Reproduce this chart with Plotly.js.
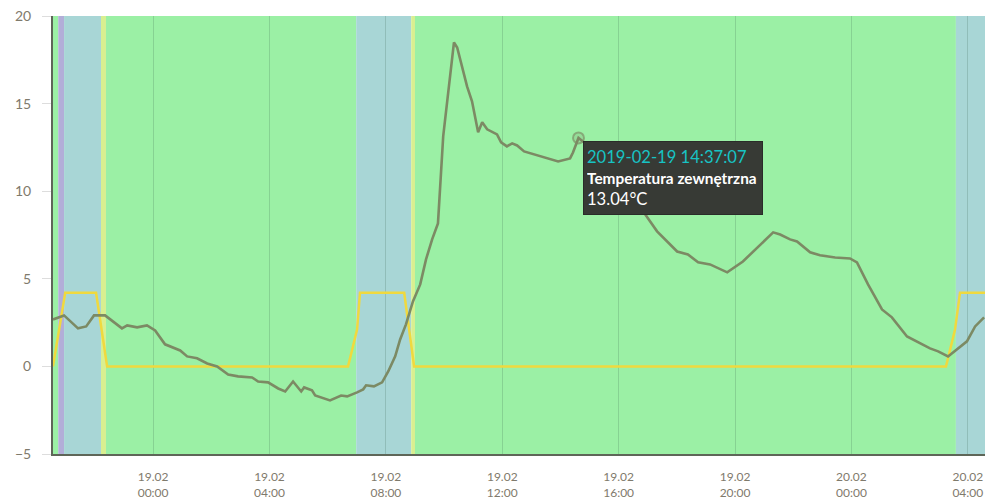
<!DOCTYPE html>
<html>
<head>
<meta charset="utf-8">
<script src="https://cdn.plot.ly/plotly-3.0.1.min.js"></script>
<style>
html, body { margin: 0; padding: 0; background: #fff; }
#chart { width: 1000px; height: 503px; }
</style>
</head>
<body>
<div id="chart"></div>
<script>
// all times are hours counted from 2019-02-19 00:00
const tempHours = [-3.44, -3.06, -2.58, -2.30, -2.03, -1.65, -1.07, -0.89, -0.55, -0.21, 0.07, 0.41, 0.93, 1.17, 1.51, 1.86, 2.20, 2.58, 2.92, 3.40, 3.61, 3.95, 4.30, 4.54, 4.81, 5.09, 5.19, 5.46, 5.57, 6.08, 6.46, 6.67, 7.01, 7.22, 7.32, 7.59, 7.87, 8.08, 8.32, 8.49, 8.69, 8.93, 9.18, 9.38, 9.59, 9.79, 9.97, 10.34, 10.45, 10.79, 10.96, 11.17, 11.31, 11.48, 11.82, 11.96, 12.16, 12.34, 12.51, 12.75, 13.92, 14.33, 14.43, 14.62, 14.81, 15.02, 15.70, 16.39, 16.91, 17.32, 18.01, 18.38, 18.73, 19.14, 19.73, 20.27, 20.76, 21.31, 21.55, 21.89, 22.13, 22.58, 22.92, 23.44, 23.95, 24.19, 24.57, 25.05, 25.39, 25.91, 26.70, 26.98, 27.32, 27.97, 28.25, 28.56];
const tempValues = [2.68, 2.91, 2.17, 2.28, 2.91, 2.91, 2.17, 2.34, 2.23, 2.34, 2.05, 1.26, 0.91, 0.57, 0.46, 0.17, 0, -0.46, -0.57, -0.63, -0.86, -0.91, -1.26, -1.43, -0.86, -1.43, -1.2, -1.37, -1.66, -1.94, -1.66, -1.71, -1.48, -1.31, -1.08, -1.14, -0.91, -0.29, 0.57, 1.54, 2.4, 3.71, 4.68, 6.11, 7.25, 8.16, 13.13, 18.49, 18.2, 15.98, 15.13, 13.36, 13.93, 13.53, 13.24, 12.79, 12.56, 12.73, 12.61, 12.27, 11.7, 11.87, 12.21, 13.04, 12.79, 12.39, 10.67, 9.53, 8.68, 7.71, 6.56, 6.39, 5.94, 5.82, 5.37, 5.99, 6.79, 7.65, 7.53, 7.25, 7.13, 6.51, 6.34, 6.22, 6.16, 5.94, 4.68, 3.25, 2.80, 1.71, 1.03, 0.86, 0.57, 1.43, 2.28, 2.80];

const stateHours = [-3.44, -3.02, -1.96, -1.58, 6.70, 7.01, 7.11, 8.63, 8.97, 27.25, 27.56, 27.73, 28.59];
const stateValues = [0, 4.2, 4.2, 0, 0, 2.1, 4.2, 4.2, 0, 0, 2.1, 4.2, 4.2];

// background periods: kind of period and where each one starts and ends
const bandKinds = ["green", "purple", "teal", "lime", "green", "teal", "lime", "green", "teal"];
const bandStarts = [-3.44, -3.26, -3.06, -1.79, -1.62, 6.98, 8.87, 9.0, 27.59];
const bandEnds = [-3.26, -3.06, -1.79, -1.62, 6.98, 8.87, 9.0, 27.59, 28.59];

const xTickHours = [0, 4, 8, 12, 16, 20, 24, 28];
const xTickLabels = ["19.02<br>00:00", "19.02<br>04:00", "19.02<br>08:00", "19.02<br>12:00", "19.02<br>16:00", "19.02<br>20:00", "20.02<br>00:00", "20.02<br>04:00"];
const yTicks = [-5, 0, 5, 10, 15, 20];

const hoverHour = [14.62];
const hoverValue = [13.04];
const hoverTime = "2019-02-19 14:37:07";
const hoverName = "Temperatura zewnętrzna";
const hoverText = "13.04°C";

const bandColors = {
	green: "#9bf0a5",
	teal: "#a8d6d6",
	purple: "#b2aed8",
	lime: "#d9ef90"
};
const textGray = "#7f7a6c";

const baseTime = Date.UTC(2019, 1, 19);
function toTime(h) {
	return baseTime + h * 3600000;
}

const shapes = bandKinds.map(function (kind, i) {
	return {
		type: "rect",
		layer: "below",
		xref: "x",
		yref: "paper",
		x0: toTime(bandStarts[i]),
		x1: toTime(bandEnds[i]),
		y0: 0,
		y1: 1,
		line: { width: 0 },
		fillcolor: bandColors[kind]
	};
});

const data = [
	{
		type: "scatter",
		mode: "lines",
		x: stateHours.map(toTime),
		y: stateValues,
		line: { color: "#f0d93e", width: 2.5 },
		hoverinfo: "skip"
	},
	{
		type: "scatter",
		mode: "lines",
		x: tempHours.map(toTime),
		y: tempValues,
		line: { color: "#7c8a64", width: 2.6 },
		hoverinfo: "skip"
	},
	{
		type: "scatter",
		mode: "markers",
		x: hoverHour.map(toTime),
		y: hoverValue,
		marker: {
			size: 11,
			color: "rgba(124,138,100,0.2)",
			line: { color: "rgba(124,138,100,0.65)", width: 2 }
		},
		hoverinfo: "skip"
	}
];

const layout = {
	width: 1000,
	height: 503,
	margin: { l: 53, r: 15, t: 16, b: 49, pad: 0 },
	paper_bgcolor: "#fff",
	plot_bgcolor: "#fff",
	showlegend: false,
	font: { family: "Lato, sans-serif", color: textGray, size: 12 },
	xaxis: {
		type: "date",
		range: [toTime(-3.44), toTime(28.59)],
		tickmode: "array",
		tickvals: xTickHours.map(toTime),
		ticktext: xTickLabels,
		ticks: "",
		showgrid: true,
		gridcolor: "rgba(50,90,70,0.2)",
		gridwidth: 1,
		showline: true,
		linecolor: "#5e6658",
		linewidth: 2,
		zeroline: false,
		ticklabelstandoff: 11,
		tickfont: { family: "Lato, sans-serif", color: textGray, size: 12 }
	},
	yaxis: {
		range: [-5, 20],
		tickmode: "array",
		tickvals: yTicks,
		ticks: "outside",
		ticklen: 9,
		tickcolor: "#dddddd",
		tickwidth: 1,
		showgrid: false,
		showline: true,
		linecolor: "#5e6658",
		linewidth: 2,
		zeroline: false,
		ticklabelstandoff: 8,
		tickfont: { family: "Lato, sans-serif", color: textGray, size: 14 }
	},
	shapes: shapes,
	annotations: [{
		xref: "x",
		yref: "y",
		x: toTime(hoverHour[0]),
		y: hoverValue[0],
		xanchor: "left",
		yanchor: "top",
		xshift: 4,
		yshift: -3,
		showarrow: false,
		align: "left",
		width: 172,
		height: 66,
		borderpad: 3,
		bgcolor: "#373a35",
		bordercolor: "#2a2c29",
		borderwidth: 1,
		font: { family: "Lato, sans-serif", color: "#fff", size: 16 },
		text: '<span style="color:#17c3c4;font-size:16.6px">' + hoverTime + '</span><br>' +
			'<b style="font-size:15.4px">' + hoverName + '</b><br>' +
			'<span style="font-size:16.6px">' + hoverText + '</span>'
	}]
};

Plotly.newPlot("chart", data, layout, { displayModeBar: false, staticPlot: true });
</script>
</body>
</html>
